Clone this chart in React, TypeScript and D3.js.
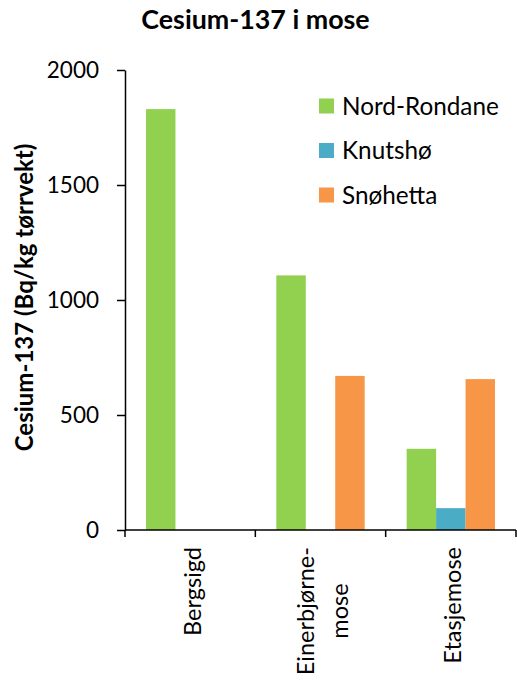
import React, { useEffect, useRef } from "react";
import * as d3 from "d3";

// Sites (each may wrap over several lines) and measured activity per region
const categories: string[] = ["Bergsigd", "Einerbjørnemose", "Etasjemose"];
const categoryLines: string[][] = [["Bergsigd"], ["Einerbjørne-", "mose"], ["Etasjemose"]];
const seriesNames: string[] = ["Nord-Rondane", "Knutshø", "Snøhetta"];
const nordRondane: (number | null)[] = [1830, 1107, 353];
const knutsho: (number | null)[] = [null, null, 95];
const snohetta: (number | null)[] = [null, 670, 656];
const seriesColors: string[] = ["#92D050", "#4BACC6", "#F79646"];
const yTicks: number[] = [0, 500, 1000, 1500, 2000];

const titleText = "Cesium-137 i mose";
const yTitleText = "Cesium-137 (Bq/kg tørrvekt)";

const W = 517;
const H = 682;
const FONT = "Lato, 'Open Sans', sans-serif";

export default function App() {
  const ref = useRef<SVGSVGElement | null>(null);

  useEffect(() => {
    const svg = d3.select(ref.current);
    svg.selectAll("*").remove();

    const plot = { left: 125, right: 516, top: 70, bottom: 530 };
    const y = d3.scaleLinear().domain([0, 2000]).range([plot.bottom, plot.top]);
    const x0 = d3
      .scaleBand<string>()
      .domain(categories)
      .range([plot.left, plot.right])
      .paddingInner(0)
      .paddingOuter(0);
    const x1 = d3
      .scaleBand<string>()
      .domain(seriesNames)
      .range([0, x0.bandwidth()])
      .paddingInner(0)
      .paddingOuter(0.713);

    const seriesValues = [nordRondane, knutsho, snohetta];

    // Bars
    const g = svg.append("g");
    categories.forEach((cat, ci) => {
      seriesNames.forEach((s, si) => {
        const v = seriesValues[si][ci];
        if (v == null) return;
        g.append("rect")
          .attr("x", (x0(cat) ?? 0) + (x1(s) ?? 0))
          .attr("y", y(v))
          .attr("width", x1.bandwidth())
          .attr("height", y(0) - y(v))
          .attr("fill", seriesColors[si]);
      });
    });

    // Y axis
    const yAxis = svg
      .append("g")
      .attr("transform", `translate(${plot.left},0)`)
      .call(
        d3
          .axisLeft(y)
          .tickValues(yTicks)
          .tickFormat(d3.format("d"))
          .tickSize(8)
          .tickPadding(18)
          .tickSizeOuter(0)
      );
    yAxis.select(".domain").attr("stroke", "#000").attr("stroke-width", 1.5);
    yAxis.selectAll(".tick line").attr("stroke", "#000").attr("stroke-width", 1.5);
    yAxis
      .selectAll(".tick text")
      .attr("font-family", FONT)
      .attr("font-size", 22.5)
      .attr("fill", "#000");

    // X axis baseline with category boundary ticks
    const xg = svg.append("g");
    xg.append("line")
      .attr("x1", plot.left)
      .attr("x2", plot.right)
      .attr("y1", plot.bottom)
      .attr("y2", plot.bottom)
      .attr("stroke", "#000")
      .attr("stroke-width", 1.5);
    const bounds = categories.map((c) => x0(c) ?? 0).concat([plot.right]);
    bounds.forEach((bx) => {
      xg.append("line")
        .attr("x1", bx)
        .attr("x2", bx)
        .attr("y1", plot.bottom)
        .attr("y2", plot.bottom + 7)
        .attr("stroke", "#000")
        .attr("stroke-width", 1.5);
    });

    // Rotated category labels, top-anchored under the axis, lines centred in the block
    const labelTop = 547;
    const lineGap = 33.4;
    const baseShift = 10.5;
    categoryLines.forEach((lines, ci) => {
      const cx = (x0(categories[ci]) ?? 0) + x0.bandwidth() / 2;
      const texts = lines.map((line) =>
        xg
          .append("text")
          .attr("font-family", FONT)
          .attr("font-size", 23.5)
          .attr("fill", "#000")
          .attr("text-anchor", "middle")
          .text(line)
      );
      const maxLen = d3.max(texts, (t) => (t.node() as SVGTextElement).getComputedTextLength()) ?? 0;
      const mid = labelTop + maxLen / 2;
      texts.forEach((t, li) => {
        const off = baseShift + (li - (lines.length - 1) / 2) * lineGap;
        t.attr("transform", `translate(${cx + off},${mid}) rotate(-90)`);
      });
    });

    // Legend
    const lg = svg.append("g");
    seriesNames.forEach((s, i) => {
      const cy = 106 + i * 44.5;
      lg.append("rect")
        .attr("x", 319)
        .attr("y", cy - 7.5)
        .attr("width", 15)
        .attr("height", 15)
        .attr("fill", seriesColors[i]);
      lg.append("text")
        .attr("x", 342)
        .attr("y", cy + 8.5)
        .attr("font-family", FONT)
        .attr("font-size", 24.3)
        .attr("fill", "#000")
        .text(s);
    });

    // Titles
    svg
      .append("text")
      .attr("x", 255.5)
      .attr("y", 29.3)
      .attr("text-anchor", "middle")
      .attr("font-family", FONT)
      .attr("font-weight", "bold")
      .attr("font-size", 26.8)
      .attr("fill", "#000")
      .text(titleText);
    svg
      .append("text")
      .attr("transform", `translate(33,297.5) rotate(-90)`)
      .attr("text-anchor", "middle")
      .attr("font-family", FONT)
      .attr("font-weight", "bold")
      .attr("font-size", 24)
      .attr("fill", "#000")
      .text(yTitleText);
  }, []);

  return (
    <svg
      ref={ref}
      width={W}
      height={H}
      style={{ position: "absolute", left: 0, top: 0, background: "#fff" }}
    />
  );
}
